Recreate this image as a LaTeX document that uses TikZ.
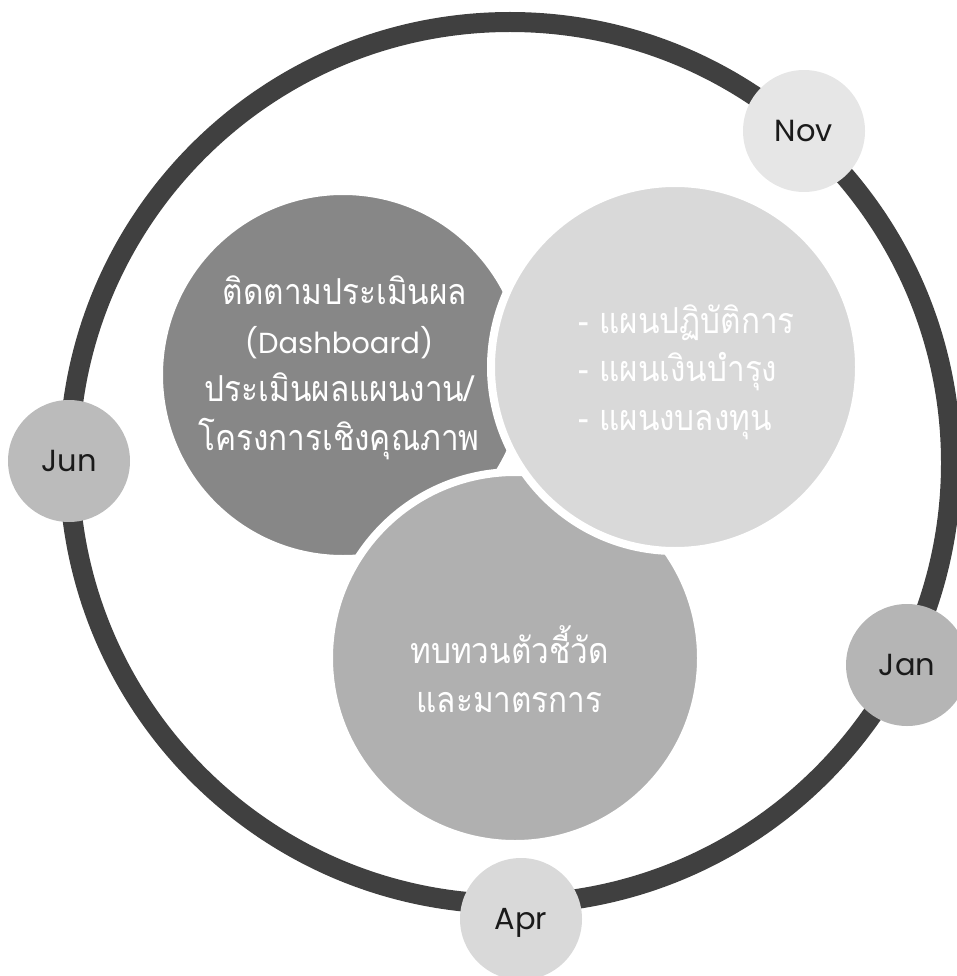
\documentclass[tikz,border=0pt]{standalone}
\usepackage{fontspec}
\setmainfont[Script=Thai, FakeStretch=0.88]{Loma}
\newfontfamily\latinf{Poppins}
\definecolor{ringc}{HTML}{404040}
\definecolor{novc}{HTML}{E6E6E6}
\definecolor{junc}{HTML}{BBBBBB}
\definecolor{janc}{HTML}{B5B5B5}
\definecolor{aprc}{HTML}{D9D9D9}
\definecolor{darkc}{HTML}{878787}
\definecolor{lightc}{HTML}{D9D9D9}
\definecolor{midc}{HTML}{B0B0B0}
\definecolor{labc}{HTML}{1A1A1A}
\begin{document}
\begin{tikzpicture}[x=1pt,y=-1pt,
  month/.style={circle, minimum size=122pt, inner sep=0pt,
    font=\latinf\fontsize{30.5}{36}\selectfont, text=labc,
    text height=21.5pt, text depth=0pt},
  bubble/.style={circle, inner sep=0pt, draw=white, line width=8pt},
  bubbletext/.style={text=white, inner sep=0pt,
    font=\fontsize{35.8}{48.5}\selectfont}]
\useasboundingbox (0,0) rectangle (957,976);
\clip (0,0) rectangle (957,976);
% outer ring
\coordinate (rc) at (510,463);
\draw[ringc, line width=20pt] (rc) circle[radius=441pt];
% month circles
\node[month, fill=novc] (nov) at (804,131) {Nov};
\node[month, fill=junc] (jun) at (69,461) {Jun};
\node[month, fill=janc] (jan) at (907,665) {Jan};
\node[month, fill=aprc] (apr) at (521,919) {Apr};
% inner bubbles
\node[bubble, fill=darkc, minimum size=368pt] (eval) at (343,375) {};
\node[bubble, fill=midc, minimum size=372pt] (review) at (515,658) {};
\node[bubble, fill=lightc, minimum size=368pt] (plan) at (675,367) {};
% texts (anchor base = baseline of the last line)
\node[bubbletext, align=center, anchor=base] (evalt) at (339,450)
  {\hspace*{12pt}ติดตามประเมินผล\\{\latinf\fontsize{29}{48.5}\selectfont (Dashboard)}\\ประเมินผลแผนงาน/\\โครงการเชิงคุณภาพ};
\node[bubbletext, align=left, anchor=base west] (plant) at (578,430)
  {- แผนปฏิบัติการ\\- แผนเงินบำรุง\\- แผนงบลงทุน};
\node[bubbletext, align=center, anchor=base] (reviewt) at (509.5,712)
  {ทบทวนตัวชี้วัด\\และมาตรการ};
\end{tikzpicture}
\end{document}
